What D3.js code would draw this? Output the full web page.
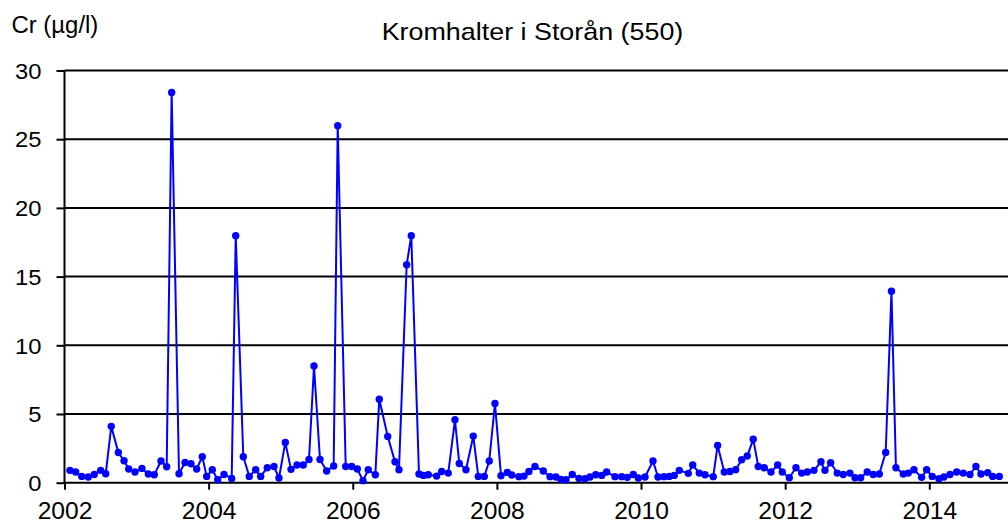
<!DOCTYPE html>
<html>
<head>
<meta charset="utf-8">
<script src="https://cdn.jsdelivr.net/npm/d3@7"></script>
<style>
  body { margin: 0; background: #fff; }
  svg { display: block; font-family: "Liberation Sans", Arial, sans-serif; }
</style>
</head>
<body>
<div id="chart"></div>
<script>
// sampling time as decimal year, Cr concentration in µg/l
var sampleTimes = [
  2002.076, 2002.155, 2002.239, 2002.330, 2002.413, 2002.502, 2002.572, 2002.649, 2002.747, 2002.826, 2002.891, 2002.978,
  2003.075, 2003.163, 2003.246, 2003.339, 2003.418, 2003.487, 2003.589, 2003.672, 2003.755, 2003.834, 2003.912, 2003.973,
  2004.051, 2004.126, 2004.213, 2004.320, 2004.376, 2004.481, 2004.564, 2004.653, 2004.722, 2004.814, 2004.907, 2004.976,
  2005.064, 2005.143, 2005.226, 2005.313, 2005.393, 2005.462, 2005.545, 2005.638, 2005.735, 2005.791, 2005.902, 2005.985,
  2006.063, 2006.142, 2006.215, 2006.313, 2006.368, 2006.485, 2006.586, 2006.641, 2006.748, 2006.812, 2006.919, 2006.979,
  2007.048, 2007.164, 2007.234, 2007.325, 2007.418, 2007.478, 2007.571, 2007.672, 2007.742, 2007.825, 2007.894, 2007.973,
  2008.057, 2008.144, 2008.205, 2008.306, 2008.376, 2008.445, 2008.528, 2008.644, 2008.737, 2008.820, 2008.889, 2008.959,
  2009.046, 2009.139, 2009.222, 2009.292, 2009.371, 2009.454, 2009.523, 2009.638, 2009.731, 2009.809, 2009.892, 2009.962,
  2010.055, 2010.166, 2010.235, 2010.318, 2010.392, 2010.461, 2010.531, 2010.656, 2010.717, 2010.808, 2010.887, 2011.002,
  2011.063, 2011.155, 2011.234, 2011.313, 2011.396, 2011.474, 2011.557, 2011.627, 2011.710, 2011.803, 2011.896, 2011.960,
  2012.057, 2012.150, 2012.229, 2012.307, 2012.400, 2012.497, 2012.552, 2012.631, 2012.723, 2012.806, 2012.899, 2012.969,
  2013.048, 2013.139, 2013.222, 2013.306, 2013.395, 2013.475, 2013.537, 2013.639, 2013.708, 2013.787, 2013.894, 2013.963,
  2014.041, 2014.134, 2014.203, 2014.287, 2014.380, 2014.471, 2014.564, 2014.647, 2014.717, 2014.810, 2014.879, 2014.971
];

var crValues = [
  0.90, 0.78, 0.46, 0.41, 0.60, 0.90, 0.65, 4.10, 2.20, 1.60, 1.00, 0.78,
  1.04, 0.63, 0.58, 1.58, 1.16, 28.4, 0.65, 1.47, 1.38, 1.00, 1.89, 0.46,
  0.94, 0.22, 0.60, 0.31, 17.98, 1.89, 0.46, 0.94, 0.46, 1.09, 1.18, 0.34,
  2.93, 0.97, 1.29, 1.29, 1.69, 8.49, 1.69, 0.85, 1.21, 25.98, 1.18, 1.18,
  1.00, 0.15, 0.94, 0.58, 6.08, 3.37, 1.52, 0.94, 15.87, 17.98, 0.63, 0.53,
  0.58, 0.48, 0.82, 0.70, 4.58, 1.40, 0.94, 3.39, 0.46, 0.46, 1.58, 5.76,
  0.51, 0.75, 0.56, 0.44, 0.48, 0.82, 1.18, 0.85, 0.44, 0.41, 0.24, 0.22,
  0.60, 0.31, 0.29, 0.41, 0.58, 0.53, 0.78, 0.44, 0.44, 0.39, 0.60, 0.34,
  0.41, 1.58, 0.41, 0.44, 0.46, 0.53, 0.90, 0.68, 1.29, 0.70, 0.58, 0.44,
  2.71, 0.78, 0.82, 0.94, 1.67, 1.94, 3.17, 1.18, 1.09, 0.78, 1.29, 0.78,
  0.36, 1.09, 0.70, 0.78, 0.90, 1.52, 0.90, 1.45, 0.70, 0.60, 0.70, 0.36,
  0.36, 0.78, 0.60, 0.63, 2.20, 13.94, 1.09, 0.63, 0.70, 0.94, 0.39, 0.94,
  0.46, 0.29, 0.41, 0.60, 0.78, 0.70, 0.60, 1.18, 0.63, 0.73, 0.46, 0.46
];

var yearTicks = [2002, 2004, 2006, 2008, 2010, 2012, 2014];
var valueTicks = [0, 5, 10, 15, 20, 25, 30];

var chartTitle = "Kromhalter i Storån (550)";
var yLabel = "Cr (µg/l)";

var width = 1008, height = 524;
var margin = { top: 70.5, right: 0, bottom: 41.3, left: 64.5 };

var data = sampleTimes.map(function(t, i) {
  return { time: t, value: crValues[i] };
});

// 2002..2014 spans 864.8 px in the picture; the plot runs on past the window edge
var x = d3.scaleLinear()
  .domain([2002, 2014])
  .range([margin.left, margin.left + 864.8]);

var y = d3.scaleLinear()
  .domain([0, 30])
  .range([height - margin.bottom, margin.top]);

var svg = d3.select("#chart")
  .append("svg")
  .attr("width", width)
  .attr("height", height);

// horizontal grid
svg.append("g")
  .attr("class", "grid")
  .selectAll("line")
  .data(valueTicks.filter(function(d) { return d > 0; }))
  .enter().append("line")
  .attr("x1", margin.left)
  .attr("x2", width)
  .attr("y1", function(d) { return y(d); })
  .attr("y2", function(d) { return y(d); })
  .attr("stroke", "#000")
  .attr("stroke-width", 2);

var yAxis = d3.axisLeft(y)
  .tickValues(valueTicks)
  .tickSize(8)
  .tickPadding(15)
  .tickFormat(d3.format("d"));

var xAxis = d3.axisBottom(x)
  .tickValues(yearTicks)
  .tickSize(7)
  .tickPadding(13)
  .tickFormat(d3.format("d"));

var gx = svg.append("g")
  .attr("class", "x axis")
  .attr("transform", "translate(0," + y(0) + ")")
  .call(xAxis);

gx.select(".domain").remove();
gx.append("line")
  .attr("x1", margin.left)
  .attr("x2", width)
  .attr("stroke", "#000")
  .attr("stroke-width", 2);

var gy = svg.append("g")
  .attr("class", "y axis")
  .attr("transform", "translate(" + margin.left + ",0)")
  .call(yAxis);

gy.select(".domain").remove();
gy.append("line")
  .attr("y1", y(30))
  .attr("y2", y(0) + 1)
  .attr("stroke", "#000")
  .attr("stroke-width", 2);

svg.selectAll(".axis .tick line")
  .attr("stroke", "#000")
  .attr("stroke-width", 2);

// the original text is a bit wide for its height
gy.selectAll(".tick text")
  .attr("font-size", 22)
  .attr("fill", "#000")
  .attr("dy", "0.35em")
  .attr("transform", function() {
    var tx = +d3.select(this).attr("x");
    return "translate(" + tx + ",0) scale(1.08,1)";
  })
  .attr("x", 0);

gx.selectAll(".tick text")
  .attr("font-size", 23)
  .attr("fill", "#000")
  .attr("dy", "0.71em")
  .attr("transform", function() {
    var ty = +d3.select(this).attr("y");
    return "translate(0," + ty + ") scale(1.07,1)";
  })
  .attr("y", 0);

var line = d3.line()
  .x(function(d) { return x(d.time); })
  .y(function(d) { return y(d.value); });

svg.append("path")
  .datum(data)
  .attr("fill", "none")
  .attr("stroke", "#0000ff")
  .attr("stroke-width", 2)
  .attr("stroke-linejoin", "round")
  .attr("d", line);

svg.append("g")
  .selectAll("circle")
  .data(data)
  .enter().append("circle")
  .attr("cx", function(d) { return x(d.time); })
  .attr("cy", function(d) { return y(d.value); })
  .attr("r", 3.7)
  .attr("fill", "#0000ff");

svg.append("text")
  .attr("transform", "translate(532.5,40) scale(1.12,1)")
  .attr("text-anchor", "middle")
  .attr("font-size", 24)
  .attr("fill", "#000")
  .text(chartTitle);

svg.append("text")
  .attr("transform", "translate(11.5,33) scale(1.04,1)")
  .attr("font-size", 23)
  .attr("fill", "#000")
  .text(yLabel);
</script>
</body>
</html>
